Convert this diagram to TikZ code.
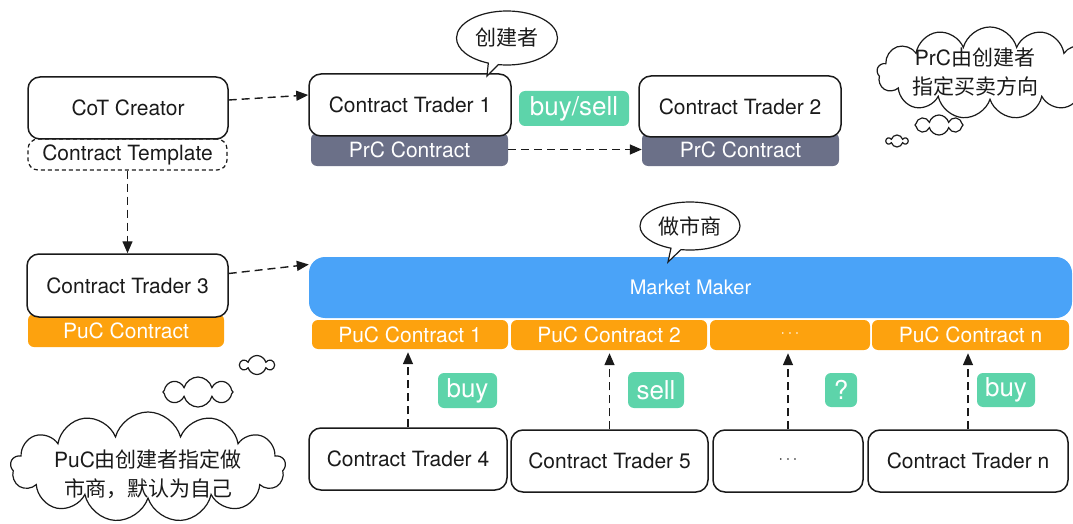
\documentclass[tikz,border=0pt]{standalone}
\usepackage{fontspec}
\setmainfont{TeX Gyre Heros}
\newfontfamily\cjk{Noto Sans CJK SC}
\usetikzlibrary{arrows.meta,shapes.symbols,shapes.callouts,calc}
\definecolor{prcgray}{HTML}{6B7088}
\definecolor{pucorange}{HTML}{FDA20E}
\definecolor{mmblue}{HTML}{4AA3F8}
\definecolor{tagmint}{HTML}{5DD4AA}
\definecolor{inkdark}{HTML}{1A1A1A}

\begin{document}
\begin{tikzpicture}[x=1pt,y=-1pt,
  txt/.style={font=\fontsize{21}{25}\selectfont},
  actor/.style={draw=inkdark, line width=1.5pt, fill=white, rounded corners=12pt, txt, text=inkdark, inner sep=0pt},
  prcbar/.style={fill=prcgray, rounded corners=6pt, text=white, txt, inner sep=0pt},
  pucbar/.style={fill=pucorange, rounded corners=6pt, text=white, txt, inner sep=0pt},
  tag/.style={fill=tagmint, rounded corners=6pt, text=white, font=\fontsize{26}{30}\selectfont, inner sep=0pt},
  flow/.style={dash pattern=on 8pt off 5pt, line width=1.4pt, draw=inkdark, -{Triangle[length=12pt,width=10pt]}},
  bubble/.style={ellipse callout, callout pointer arc=12, draw=inkdark, line width=1.2pt, fill=white, inner sep=0pt, text=inkdark, font=\cjk\fontsize{21}{25}\selectfont},
  puff/.style={cloud, draw=inkdark, line width=1.2pt, fill=white, cloud ignores aspect, inner sep=0pt},
  note/.style={align=center, text=inkdark, font=\fontsize{21}{29}\selectfont}
]
\useasboundingbox (0,0) rectangle (1073,524);

% ---- creator and private contract traders ----
\node[draw=inkdark, dash pattern=on 4pt off 3pt, line width=1.2pt, rounded corners=10pt,
      minimum width=199pt, minimum height=31pt, inner sep=0pt, txt, text=inkdark] (tmpl) at (127.5,154.5) {Contract Template};
\node[actor, minimum width=200pt, minimum height=62pt] (cot) at (128,108) {CoT Creator};

\node[prcbar, minimum width=197pt, minimum height=33pt] (prc1) at (409.5,149.5) {\raisebox{-2pt}{PrC Contract}};
\node[actor, minimum width=202pt, minimum height=62pt] (ct1) at (410,105) {Contract Trader 1};
\node[prcbar, minimum width=197pt, minimum height=33pt] (prc2) at (740.5,149.5) {\raisebox{-2pt}{PrC Contract}};
\node[actor, minimum width=202pt, minimum height=61pt] (ct2) at (740,106.5) {Contract Trader 2};
\node[tag, minimum width=110pt, minimum height=35pt] (bs) at (574,108.5) {buy/sell};

\node[bubble, minimum width=101pt, minimum height=54pt, callout absolute pointer={(487,76)}] (b1) at (507,38) {创建者};

% ---- public contract side ----
\node[pucbar, minimum width=196pt, minimum height=33pt] (puc0) at (126,330.5) {\raisebox{-1pt}{PuC Contract}};
\node[actor, minimum width=201pt, minimum height=63pt] (ct3) at (127.5,285.5) {Contract Trader 3};

\node[fill=mmblue, rounded corners=16pt, minimum width=763pt, minimum height=61pt, inner sep=0pt,
      text=white, font=\fontsize{20}{24}\selectfont] (mm) at (690.5,287.5) {Market Maker};
\node[pucbar, minimum width=196pt, minimum height=29pt] (puc1) at (410,334.5) {PuC Contract 1};
\node[pucbar, minimum width=196pt, minimum height=30pt] (puc2) at (609,335) {PuC Contract 2};
\node[pucbar, minimum width=160pt, minimum height=30pt, font=\fontsize{16}{18}\selectfont] (pucd) at (790,335) {\textperiodcentered\,\textperiodcentered\,\textperiodcentered};
\node[pucbar, minimum width=197pt, minimum height=30pt] (pucn) at (970.5,335) {PuC Contract n};

\node[bubble, minimum width=100pt, minimum height=48pt, callout absolute pointer={(668,262)}] (b2) at (690,226) {做市商};

\node[actor, minimum width=198pt, minimum height=62pt] (ct4) at (408,459) {Contract Trader 4};
\node[actor, minimum width=197pt, minimum height=62pt] (ct5) at (609.5,461) {Contract Trader 5};
\node[actor, minimum width=150pt, minimum height=62pt, font=\fontsize{16}{18}\selectfont] (ctd) at (788,461) {\textperiodcentered\,\textperiodcentered\,\textperiodcentered};
\node[actor, minimum width=200pt, minimum height=62pt] (ctn) at (968,461) {Contract Trader n};

\node[tag, minimum width=59pt, minimum height=35pt] (t1) at (467.5,390.5) {buy};
\node[tag, minimum width=56pt, minimum height=36pt] (t2) at (656,390) {sell};
\node[tag, minimum width=32pt, minimum height=34pt] (t3) at (841,390) {?};
\node[tag, minimum width=58pt, minimum height=34pt] (t4) at (1006,390) {buy};

% ---- connectors ----
\draw[flow] ([yshift=8pt]cot.east) -- ([yshift=10pt]ct1.west);
\draw[flow] (prc1.east) -- (prc2.west);
\draw[flow] (tmpl.south) -- (ct3.north);
\draw[flow] ([yshift=12pt]ct3.east) -- ([yshift=23pt]mm.west);
\draw[flow, shorten >=3pt] (ct4.north) -- (ct4.north |- puc1.south);
\draw[flow, shorten >=3pt] (ct5.north) -- (ct5.north |- puc2.south);
\draw[flow, shorten >=3pt] (ctd.north) -- (ctd.north |- pucd.south);
\draw[flow, shorten >=3pt] (ctn.north) -- (ctn.north |- pucn.south);

% ---- thought clouds ----
\node[puff, cloud puffs=13, minimum width=226pt, minimum height=92pt] (c1) at (990,73) {};
\node[puff, cloud puffs=8, minimum width=48pt, minimum height=20pt] (c1a) at (939,125) {};
\node[puff, cloud puffs=6, minimum width=21pt, minimum height=12pt] (c1b) at (897,141) {};
\node[note] (n1) at (975,72) {PrC{\cjk 由创建者}\\{\cjk 指定买卖方向}};

\node[puff, cloud puffs=13, minimum width=275pt, minimum height=110pt] (c2) at (148,467) {};
\node[puff, cloud puffs=8, minimum width=70pt, minimum height=30pt] (c2a) at (198,392) {};
\node[puff, cloud puffs=6, minimum width=33pt, minimum height=19pt] (c2b) at (257,365) {};
\node[note] (n2) at (148,474) {PuC{\cjk 由创建者指定做}\\{\cjk 市商，默认为自己}};
\end{tikzpicture}
\end{document}
